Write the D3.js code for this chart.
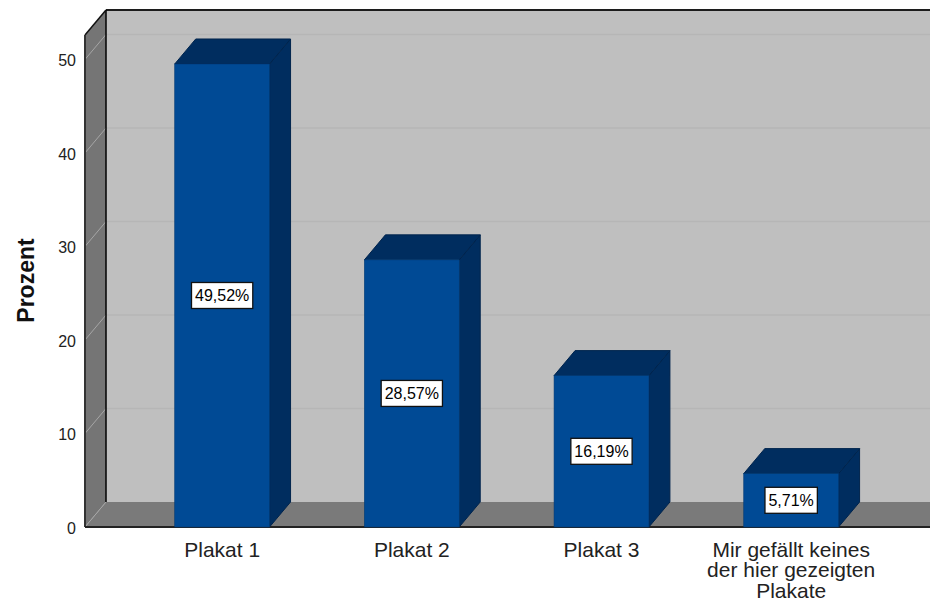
<!DOCTYPE html>
<html><head><meta charset="utf-8"><style>html,body{margin:0;padding:0;background:#fff}svg{display:block}text{font-family:"Liberation Sans",Arial,sans-serif}</style>
<script src="https://cdn.jsdelivr.net/npm/d3@7"></script></head><body><script>
const categories=["Plakat 1","Plakat 2","Plakat 3","Mir gefällt keines|der hier gezeigten|Plakate"];
const values=[49.52,28.57,16.19,5.71];
const valueLabels=["49,52%","28,57%","16,19%","5,71%"];
const yTicks=[0,10,20,30,40,50];
const W=930,H=602;
const dx=21,dy=25;
const y=d3.scaleLinear().domain([0,52.62]).range([527,35]);
const x=d3.scaleBand().domain(categories).range([127.3,886]).paddingInner(0.5).paddingOuter(0.25);
const left=85,right=960;
const svg=d3.select("body").append("svg").attr("width",W).attr("height",H);
const poly=(pts,fill,stroke)=>svg.append("polygon").attr("points",pts.map(p=>p.join(",")).join(" ")).attr("fill",fill).attr("stroke",stroke||"none");
const y0=y(0),yT=y.range()[1];
svg.append("rect").attr("x",left+dx).attr("y",yT-dy).attr("width",right-left).attr("height",y0-yT).attr("fill","#bfbfbf");
poly([[left,yT],[left+dx,yT-dy],[left+dx,y0-dy],[left,y0]],"#757575");
poly([[left,y0],[left+dx,y0-dy],[right,y0-dy],[right,y0]],"#7a7a7a");
const g=svg.append("g");
g.selectAll("line.b").data(yTicks.slice(1)).join("line").attr("x1",left+dx).attr("x2",right).attr("y1",d=>y(d)-dy).attr("y2",d=>y(d)-dy).attr("stroke","#b6b6b6").attr("stroke-width",1.4);
g.selectAll("line.w").data(yTicks).join("line").attr("x1",left).attr("x2",left+dx).attr("y1",d=>y(d)).attr("y2",d=>y(d)-dy).attr("stroke","#a6a6a6").attr("stroke-width",1);
const frame=(a,b,c,d,w,col)=>svg.append("line").attr("x1",a).attr("y1",b).attr("x2",c).attr("y2",d).attr("stroke",col||"#111").attr("stroke-width",w||1.5);
frame(left+dx,yT-dy,right,yT-dy,2,"#1c1c1c");
frame(left+dx,yT-dy,left+dx,y0-dy,1.5,"#000");
frame(left,yT,left+dx,yT-dy,1.5,"#111");
frame(left,yT,left,y0,2,"#333");
frame(left,y0,right,y0,2,"#222");
categories.forEach((c,i)=>{
  const a=x(c),b=a+x.bandwidth(),t=y(values[i]);
  poly([[b,t],[b+dx,t-dy],[b+dx,y0-dy],[b,y0]],"#002d5f","#00244d");
  poly([[a,t],[a+dx,t-dy],[b+dx,t-dy],[b,t]],"#002d5f","#00244d");
  svg.append("rect").attr("x",a).attr("y",t).attr("width",x.bandwidth()).attr("height",y0-t).attr("fill","#004a95").attr("stroke","#003a75").attr("stroke-width",.6);
});
categories.forEach((c,i)=>{
  const cx=x(c)+x.bandwidth()/2,cy=(y(values[i])+y0)/2;
  const l=svg.append("g");
  const t=l.append("text").attr("x",cx).attr("y",cy+6).attr("text-anchor","middle").attr("font-size",16).attr("fill","#000").text(valueLabels[i]);
  const w=t.node().getComputedTextLength();
  l.insert("rect","text").attr("x",cx-w/2-3.5).attr("y",cy-13).attr("width",w+7).attr("height",26).attr("fill","#fff").attr("stroke","#111").attr("stroke-width",1.3);
});
svg.selectAll("text.yt").data(yTicks).join("text").attr("class","yt").attr("x",76).attr("y",d=>y(d)+7).attr("text-anchor","end").attr("font-size",16).attr("fill","#222").text(d=>d);
svg.append("text").attr("transform","translate(34,280.5) rotate(-90)").attr("text-anchor","middle").attr("font-size",23).attr("font-weight","bold").attr("fill","#111").text("Prozent");
categories.forEach(c=>{
  c.split("|").forEach((s,j)=>svg.append("text").attr("transform",`translate(${x(c)+x.bandwidth()/2},${556.5+j*20.7}) scale(1.05,1)`).attr("text-anchor","middle").attr("font-size",20).attr("fill","#222").text(s));
});
</script></body></html>
